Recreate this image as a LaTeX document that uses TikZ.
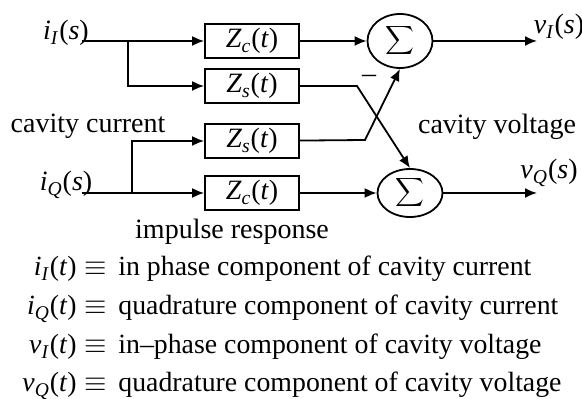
\documentclass[tikz,border=0pt]{standalone}
\usepackage{fontspec}
\setmainfont{LiberationSerif}[
  Extension=.ttf,
  UprightFont=*-Regular,
  ItalicFont=*-Italic,
  BoldFont=*-Bold,
  BoldItalicFont=*-BoldItalic]
\usetikzlibrary{arrows.meta,positioning,shapes.geometric}
\newcommand{\labelfont}{\fontsize{14}{16}\selectfont}
\newcommand{\legendfont}{\fontsize{13.9}{16}\selectfont}
\newcommand{\sig}[3]{\textit{#1}\textsubscript{\textit{#2}}(\textit{#3})}
\tikzset{
  blockbox/.style={draw,line width=0.9pt,minimum width=47pt,minimum height=17pt,
    inner sep=0pt,font=\labelfont},
  sumnode/.style={draw,ellipse,line width=0.9pt,minimum width=32.5pt,
    minimum height=26pt,inner sep=0pt,font=\fontsize{19}{22}\selectfont},
  sigarrow/.style={-{Latex[length=6pt,width=5pt]},line width=0.9pt},
  textlabel/.style={font=\labelfont,inner sep=0pt},
  legendtext/.style={font=\legendfont,inner sep=0pt}
}

\begin{document}
\begin{tikzpicture}[x=0.5pt,y=-0.5pt]
  \useasboundingbox (0,0) rectangle (582,399);
  % impulse response blocks
  \node[blockbox] (zc1) at (252,41) {\sig{Z}{c}{t}};
  \node[blockbox] (zs1) at (252,86) {\sig{Z}{s}{t}};
  \node[blockbox] (zs2) at (252,141) {\sig{Z}{s}{t}};
  \node[blockbox] (zc2) at (252,193) {\sig{Z}{c}{t}};
  % summers
  \node[sumnode,minimum height=27pt] (sumI) at (400,41) {$\displaystyle\sum$};
  \node[sumnode,minimum height=24pt] (sumQ) at (410,193) {$\displaystyle\sum$};
  % inputs
  \node[textlabel] (iI) at (66,33) {\sig{i}{I}{s}};
  \coordinate (iIo) at (82,41);
  \coordinate (iIb) at (128,41);
  \node[textlabel] (iQ) at (66,185) {\sig{i}{Q}{s}};
  \coordinate (iQo) at (82,193);
  \coordinate (iQb) at (132,193);
  \draw[sigarrow] (iIo) -- (zc1);
  \draw[sigarrow] (iIb) |- (zs1);
  \draw[sigarrow] (iQo) -- (zc2);
  \draw[sigarrow] (iQb) |- (zs2);
  % direct paths and outputs
  \draw[sigarrow] (zc1) -- (sumI);
  \draw[sigarrow] (zc2) -- (sumQ);
  \coordinate (vIo) at (537,41);
  \coordinate (vQo) at (537,193);
  \draw[sigarrow] (sumI) -- (vIo);
  \draw[sigarrow] (sumQ) -- (vQo);
  \node[textlabel] (vI) at (559,27) {\sig{v}{I}{s}};
  \node[textlabel] (vQ) at (549,173) {\sig{v}{Q}{s}};
  % cross coupling
  \coordinate (ks1) at (357,86);
  \coordinate (ks2) at (365,140);
  \draw[sigarrow] (zs1) -- (ks1) -- (sumQ.north);
  \draw[sigarrow] (zs2) -- (ks2) -- (sumI.south);
  \node[textlabel] (minus) at (369,79) {--};
  % captions
  \node[textlabel] (curr) at (88,126) {cavity current};
  \node[textlabel] (volt) at (497,127) {cavity voltage};
  \node[textlabel] (imp) at (232,232) {impulse response};
  % legend
  \foreach \n/\yb/\sym/\txt in {
    1/276/{\sig{i}{I}{t}}/{in phase component of cavity current},
    2/315/{\sig{i}{Q}{t}}/{quadrature component of cavity current},
    3/354/{\sig{v}{I}{t}}/{in--phase component of cavity voltage},
    4/392/{\sig{v}{Q}{t}}/{quadrature component of cavity voltage}}{
    \node[legendtext,anchor=base east] (sym\n) at (77,\yb) {\sym};
    \node[legendtext,anchor=base] (eq\n) at (96,\yb) {$\equiv$};
    \node[legendtext,anchor=base west] (def\n) at (118,\yb) {\txt};
  }
\end{tikzpicture}
\end{document}
